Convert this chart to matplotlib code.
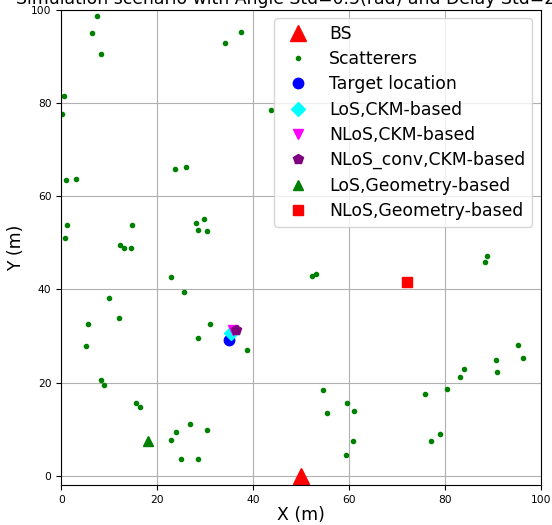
import matplotlib
matplotlib.use("Agg")
import matplotlib.pyplot as plt

title = "Simulation scenario with Angle Std=0.5(rad) and Delay Std=2(m)"

scat_x = [7.5, 6.5, 8.3, 0.6, 0.15, 0.9, 3.1, 1.2, 0.8, 12.2, 13.1, 14.5, 14.8,
          23.6, 25.9, 28.0, 29.7, 28.6, 30.4, 34.2, 37.4, 43.8,
          22.8, 25.5, 9.9, 12.0, 5.5, 5.2, 31.0, 28.5, 38.7, 8.3, 8.9, 15.6, 16.4,
          26.9, 24.0, 30.4, 22.9, 25.0, 28.4,
          52.2, 53.0, 88.3, 88.7, 95.3, 96.2, 90.7, 90.9, 83.9, 83.2, 80.4, 75.9,
          78.9, 77.1, 54.6, 55.4, 59.6, 61.1, 60.9, 59.3]
scat_y = [98.7, 94.9, 90.4, 81.5, 77.7, 63.5, 63.6, 53.7, 51.1, 49.5, 48.9, 48.9, 53.9,
          65.9, 66.3, 54.3, 55.1, 52.8, 52.5, 92.8, 95.1, 78.4,
          42.7, 39.4, 38.1, 33.8, 32.5, 27.9, 32.5, 29.5, 27.1, 20.6, 19.6, 15.6, 14.7,
          11.1, 9.5, 9.8, 7.7, 3.6, 3.6,
          42.8, 43.4, 45.8, 47.2, 28.0, 25.2, 24.9, 22.3, 22.9, 21.2, 18.6, 17.6,
          9.0, 7.4, 18.5, 13.6, 15.6, 13.9, 7.6, 4.6]

bs = (50.0, 0.0)
target = (34.9, 29.1)
los_ckm = (35.3, 30.7)
nlos_ckm = (35.8, 31.3)
nlos_conv_ckm = (36.5, 31.3)
los_geo = (18.1, 7.6)
nlos_geo = (72.1, 41.6)

fs = 12.4

fig = plt.figure(figsize=(5.52, 5.25), dpi=100)
ax = fig.add_axes([61.3/552, 1-485.3/525, (541-61.3)/552, (485.3-9.5)/525])

ax.plot(bs[0], bs[1], '^', color='red', markersize=12, label='BS', linestyle='none')
ax.plot(scat_x, scat_y, '.', color='green', label='Scatterers', linestyle='none')
ax.plot(target[0], target[1], 'o', color='blue', markersize=7.5, label='Target location', linestyle='none')
ax.plot(los_ckm[0], los_ckm[1], 'D', color='cyan', markersize=7.5, label='LoS,CKM-based', linestyle='none')
ax.plot(nlos_ckm[0], nlos_ckm[1], 'v', color='magenta', markersize=7.5, label='NLoS,CKM-based', linestyle='none')
ax.plot(nlos_conv_ckm[0], nlos_conv_ckm[1], 'p', color='purple', markersize=7.5, label='NLoS_conv,CKM-based', linestyle='none')
ax.plot(los_geo[0], los_geo[1], '^', color='green', markersize=7.5, label='LoS,Geometry-based', linestyle='none')
ax.plot(nlos_geo[0], nlos_geo[1], 's', color='red', markersize=7.5, label='NLoS,Geometry-based', linestyle='none')

ax.set_xlim(0, 100)
ax.set_ylim(-2, 100)
ax.set_xticks([0, 20, 40, 60, 80, 100])
ax.set_yticks([0, 20, 40, 60, 80, 100])
ax.tick_params(labelsize=7.7)
ax.grid(True)
ax.set_xlabel('X (m)', fontsize=fs, labelpad=1)
ax.set_ylabel('Y (m)', fontsize=fs, labelpad=4)
ax.legend(loc='upper right', fontsize=fs, labelspacing=0.42)

fig.text(301/552, 1-4/525, title, ha='center', va='baseline', fontsize=fs)

fig.savefig('out.png', dpi=100)
